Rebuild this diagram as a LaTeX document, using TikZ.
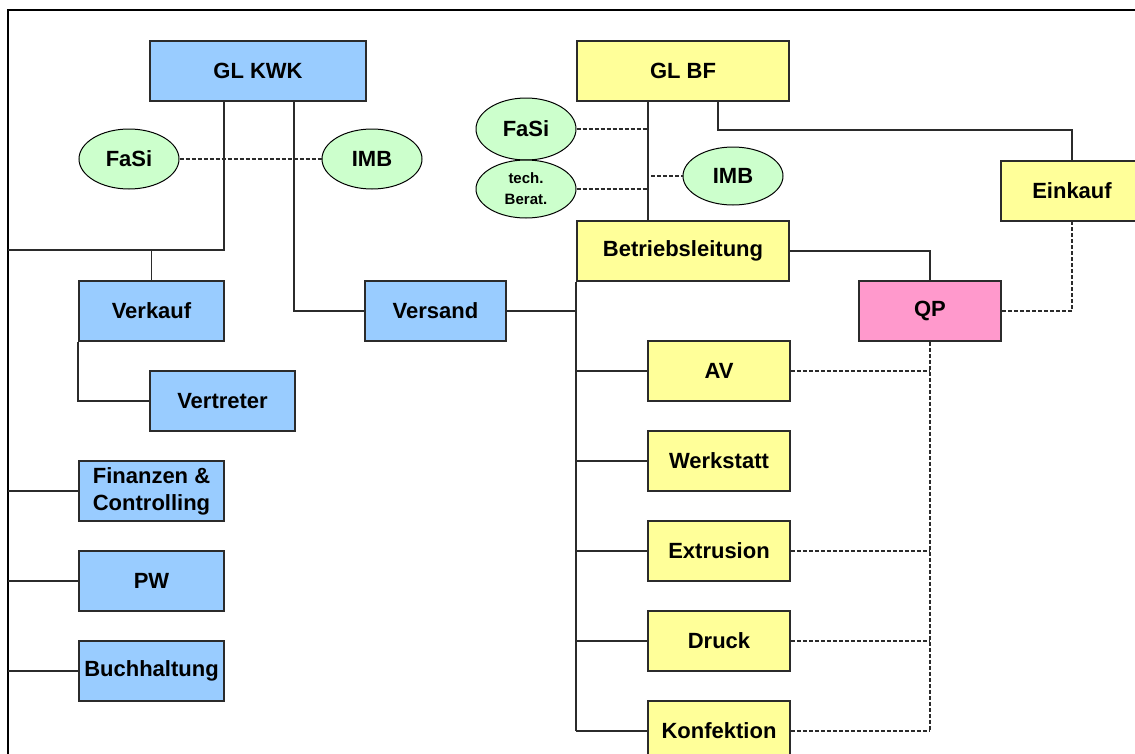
\documentclass[tikz,border=0pt]{standalone}
\usepackage{fontspec}
\setmainfont{Liberation Sans}
\usetikzlibrary{shapes.geometric}

\definecolor{kwkblau}{HTML}{99CCFF}
\definecolor{bfgelb}{HTML}{FFFF99}
\definecolor{qprosa}{HTML}{FF99CC}
\definecolor{stabgruen}{HTML}{CCFFCC}
\definecolor{liniengrau}{HTML}{2B2B2B}

\tikzstyle{orgbox} = [draw=liniengrau, line width=1.8pt, rectangle,
    minimum width=145pt, minimum height=60pt, inner sep=0pt, align=center,
    font=\fontsize{22}{27}\selectfont\bfseries]
\tikzstyle{kwkbox} = [orgbox, fill=kwkblau]
\tikzstyle{bfbox} = [orgbox, fill=bfgelb, minimum width=142pt]
\tikzstyle{stab} = [draw=black, line width=1pt, ellipse, fill=stabgruen,
    minimum width=100pt, minimum height=60pt, inner sep=0pt, align=center,
    font=\fontsize{22}{27}\selectfont\bfseries]
\tikzstyle{linie} = [draw=liniengrau, line width=1.8pt]
\tikzstyle{stablinie} = [draw=liniengrau, line width=1.5pt, dash pattern=on 4pt off 2pt]

\begin{document}
\begin{tikzpicture}[x=1pt, y=-1pt]
\useasboundingbox (0,0) rectangle (1135,753);
\clip (0,0) rectangle (1135,753);
\draw[line width=2.6pt] (8,10) rectangle (1200,800);

% Kunststoffwerk
\node [kwkbox, minimum width=216pt] (glkwk) at (258,71) {GL KWK};
\node [stab] (fasikwk) at (129,159) {FaSi};
\node [stab] (imbkwk) at (372,159) {IMB};
\node [kwkbox] (verkauf) at (151.5,311) {Verkauf};
\node [kwkbox] (vertreter) at (222.5,401) {Vertreter};
\node [kwkbox] (finanzen) at (151.5,491) {Finanzen \&\\Controlling};
\node [kwkbox] (pw) at (151.5,581) {PW};
\node [kwkbox] (buchhaltung) at (151.5,671) {Buchhaltung};
\node [kwkbox, minimum width=141pt] (versand) at (435.5,311) {Versand};

% Betrieb
\node [bfbox, minimum width=212pt] (glbf) at (683,71) {GL BF};
\node [stab, minimum height=62pt] (fasibf) at (526,129) {FaSi};
\node [stab, minimum height=58pt, font=\fontsize{15}{21}\selectfont\bfseries] (berat) at (526,189) {tech.\\Berat.};
\node [stab, minimum height=58pt] (imbbf) at (733,176) {IMB};
\node [bfbox, minimum width=212pt] (betrieb) at (683,251) {Betriebsleitung};
\node [bfbox] (einkauf) at (1072,191) {Einkauf};
\node [orgbox, fill=qprosa, minimum width=142pt] (qp) at (930,311) {QP};
\node [bfbox] (av) at (719,371) {AV};
\node [bfbox] (werkstatt) at (719,461) {Werkstatt};
\node [bfbox] (extrusion) at (719,551) {Extrusion};
\node [bfbox] (druck) at (719,641) {Druck};
\node [bfbox] (konfektion) at (719,731) {Konfektion};

\coordinate (kwkknoten) at (224,250);
\coordinate (kwkrand) at (8,250);
\coordinate (versandknick) at (294,311);
\coordinate (bfstamm) at ([xshift=-35pt]glbf.south);

% Linien KWK
\draw [linie] (glkwk.south -| kwkknoten) -- (kwkknoten) -- (kwkrand);
\draw [linie] (kwkknoten -| verkauf) -- (verkauf);
\draw [linie] (glkwk.south -| versandknick) -- (versandknick) -- (versand);
\draw [linie] (verkauf.south west) |- (vertreter);
\foreach \n in {finanzen,pw,buchhaltung}
    \draw [linie] (\n) -- (\n -| kwkrand);
\draw [stablinie] (fasikwk) -- (imbkwk);

% Linien BF
\draw [linie] (bfstamm) -- (bfstamm |- betrieb.north);
\draw [linie] ([xshift=35pt]glbf.south) |- ([yshift=30pt]einkauf.north) -- (einkauf);
\draw [linie] (betrieb) -| (qp);
\draw [linie] (versand) -- (versand -| betrieb.south west);
\draw [linie] (betrieb.south west) -- (betrieb.south west |- konfektion);
\foreach \n in {av,werkstatt,extrusion,druck,konfektion}
    \draw [linie] (\n) -- (\n -| betrieb.south west);
\draw [stablinie] (fasibf) -- (fasibf -| bfstamm);
\draw [stablinie] (berat) -- (berat -| bfstamm);
\draw [stablinie] ([xshift=3pt]bfstamm |- imbbf) -- (imbbf);
\draw [stablinie] (qp) -| (einkauf);
\draw [stablinie] (qp) -- (qp |- konfektion);
\foreach \n in {av,extrusion,druck,konfektion}
    \draw [stablinie] (\n) -- (\n -| qp);
\end{tikzpicture}
\end{document}
